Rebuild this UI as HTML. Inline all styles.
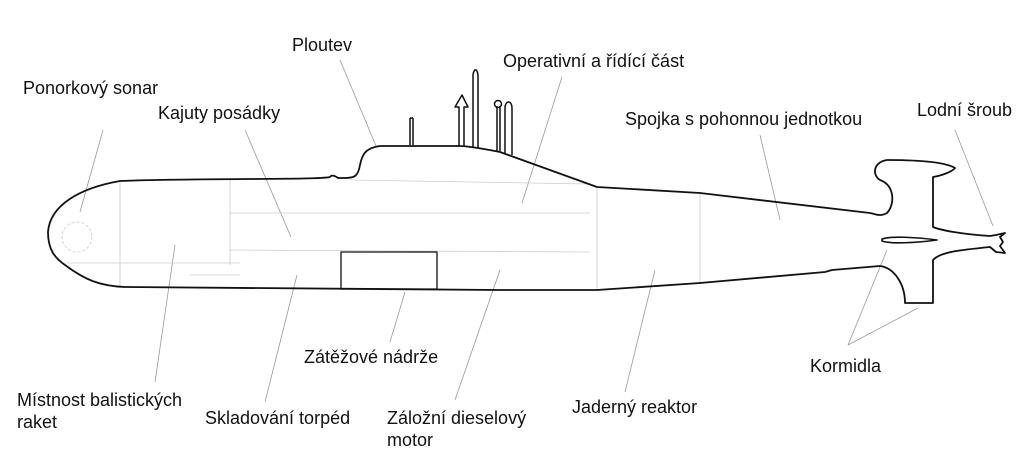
<!DOCTYPE html>
<html><head><meta charset="utf-8"><style>
html,body{margin:0;padding:0;background:#fff;}
svg{display:block;}
text{font-family:"Liberation Sans",sans-serif;font-size:18px;fill:#111;}
</style></head><body>
<svg width="1024" height="457" viewBox="0 0 1024 457" xmlns="http://www.w3.org/2000/svg">
<g stroke="#999" stroke-width="0.8" fill="none">
<line x1="103" y1="130" x2="80" y2="212"/>
<line x1="245" y1="130" x2="291" y2="237"/>
<line x1="340" y1="60" x2="376" y2="146"/>
<line x1="562" y1="77" x2="522" y2="203"/>
<line x1="760" y1="135" x2="780" y2="220"/>
<line x1="955" y1="130" x2="993" y2="226"/>
<line x1="848" y1="345" x2="887" y2="250"/>
<line x1="848" y1="345" x2="918" y2="308"/>
<line x1="625" y1="392" x2="655" y2="270"/>
<line x1="455" y1="400" x2="500" y2="270"/>
<line x1="390" y1="342" x2="405" y2="292"/>
<line x1="265" y1="402" x2="297" y2="275"/>
<line x1="155" y1="382" x2="175" y2="245"/>
</g>
<g stroke="#ccc" stroke-width="0.8" fill="none">
<line x1="120" y1="182" x2="120" y2="286"/>
<line x1="230" y1="180" x2="230" y2="265"/>
<line x1="597" y1="188" x2="597" y2="290"/>
<line x1="700" y1="192" x2="700" y2="284"/>
<line x1="230" y1="213" x2="590" y2="213"/>
<line x1="230" y1="250" x2="590" y2="252"/>
<line x1="65" y1="263" x2="240" y2="263"/>
<line x1="190" y1="275" x2="240" y2="275"/>
<line x1="350" y1="180" x2="590" y2="184"/>
<circle cx="77" cy="237" r="15" stroke-dasharray="3 2"/>
</g>
<g stroke="#111" stroke-width="1.8" fill="none" stroke-linejoin="round">
<path d="M500,152 C470,146 460,146 460,146 L380,146 C365,148 362,155 360,165 C358,176 355,178 345,178 L338,178 C334,175 331,175 330,177 C320,180 200,178 120,181 C80,188 50,205 48,232 C48,250 55,258 65,265 C85,280 100,286 125,287 L500,290 L597,290 L700,283 L825,272 L832,270 L880,266 C895,268 905,285 905,303 L933,303 L933,260 C940,252 960,250 990,247 L996,252 L1005,253 L1000,246 L1003,242 L1000,237 L1005,233 L996,235 L990,236 C960,234 940,230 933,227 L933,177 C940,176 952,172 955,168 C945,162 920,160 887,160 C873,162 872,175 880,180 C895,185 895,205 887,213 C880,217 876,214 870,213 L700,193 L597,187 Z"/>
<path d="M882,239 C890,236 915,237 937,240 C915,243 890,244 882,241 Z" stroke-width="1.6"/>
<rect x="341" y="252" width="96" height="37" stroke-width="1.3"/>
<g stroke-width="1.5">
<line x1="410" y1="118" x2="410" y2="145"/><line x1="413" y1="118" x2="413" y2="145"/><line x1="410" y1="118" x2="413" y2="118"/>
<path d="M459,146 L459,107 L455,107 L462,95 L468,107 L464,107 L464,147"/>
<path d="M473,148 L473,75 C474,68 477,68 478,75 L478,148"/>
<path d="M497,151 L497,106"/><path d="M500,151 L500,106"/><circle cx="498" cy="104" r="3.5"/>
<path d="M505,153 L505,108 C505,100 512,100 512,108 L512,155"/>
</g>
</g>
<text x="292" y="51">Ploutev</text>
<text x="503" y="67">Operativní a řídící část</text>
<text x="23" y="94">Ponorkový sonar</text>
<text x="158" y="119">Kajuty posádky</text>
<text x="625" y="125">Spojka s pohonnou jednotkou</text>
<text x="917" y="116">Lodní šroub</text>
<text x="304" y="363">Zátěžové nádrže</text>
<text x="810" y="372">Kormidla</text>
<text x="17" y="406">Místnost balistických</text>
<text x="17" y="428">raket</text>
<text x="205" y="424">Skladování torpéd</text>
<text x="387" y="424">Záložní dieselový</text>
<text x="387" y="446">motor</text>
<text x="572" y="413">Jaderný reaktor</text>
</svg>
</body></html>
